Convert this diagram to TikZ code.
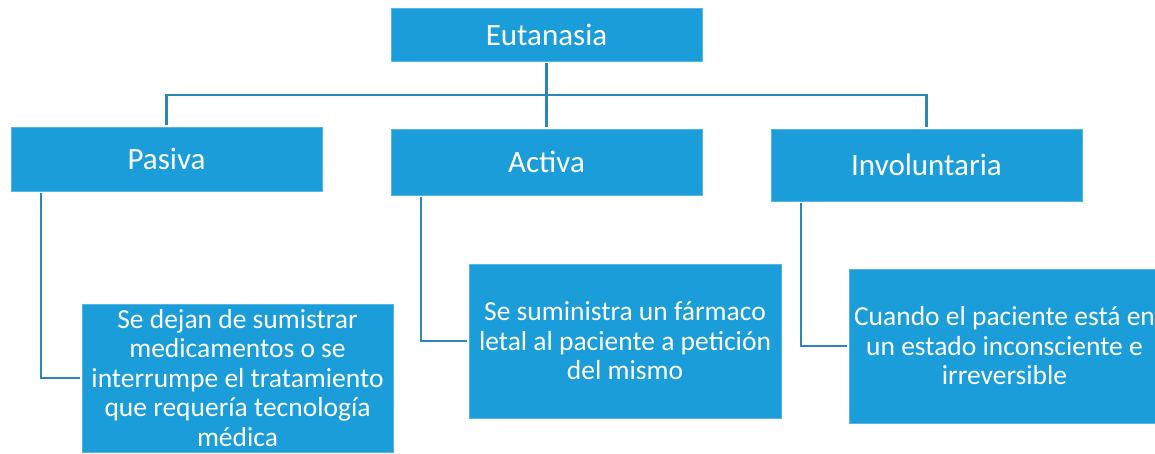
\documentclass[tikz,border=0pt]{standalone}
\usepackage{fontspec}
\setmainfont{Carlito}
\usepackage{tikz}
\usetikzlibrary{positioning,
  calc}
\definecolor{boxblue}{HTML}{1A9DD9}
\definecolor{lineblue}{HTML}{2C87B5}

\begin{document}
\begin{tikzpicture}[x=1pt,y=-1pt,
    box/.style={fill=boxblue, draw=boxblue!75!white, line width=0.6pt,
      text=white, inner sep=0pt, outer sep=2pt, align=center,
      minimum width=311pt},
    head/.style={box, font=\fontsize{31}{37}\selectfont},
    desc/.style={box, font=\fontsize{27.5}{29.5}\selectfont},
    conn/.style={lineblue, line width=2.2pt}]

  \useasboundingbox (0,0) rectangle (1155,453);

  % Top box
  \node[head, minimum height=53pt] (eut) at (546.5,34.5) {Eutanasia};

  % Kinds:
  % one box per kind, all in the same row
  \node[head, minimum height=64pt] (pas) at (166.5,159) {Pasiva};
  \node[head, minimum height=66pt] (act) at (546.5,162) {Activa};
  \node[head, minimum height=72pt] (inv) at (926.5,165) {Involuntaria};

  % Descriptions
  \node[desc, minimum height=148pt] (psub) at (237.5,378)
    {Se dejan de sumistrar\\medicamentos o se\\interrumpe el tratamiento\\que requería tecnología\\médica};
  \node[desc, minimum height=154pt, minimum width=312pt] (asub) at (625,341)
    {Se suministra un fármaco\\letal al paciente a petición\\del mismo};
  \node[desc, minimum height=154pt] (isub) at (1004.5,346)
    {Cuando el paciente está en\\un estado inconsciente e\\irreversible};

  % Connectors
  \coordinate (bar) at ($(eut.south)!0.5!(act.north)$);
  \draw[conn] (eut.south) -- (act.north);
  \draw[conn] (pas.north) |- (bar) -| (inv.north);

  \draw[conn] ([xshift=32pt]pas.south west) |- (psub.west);
  \draw[conn] ([xshift=32pt]act.south west) |- (asub.west);
  \draw[conn] ([xshift=32pt]inv.south west) |- (isub.west);
\end{tikzpicture}
\end{document}
